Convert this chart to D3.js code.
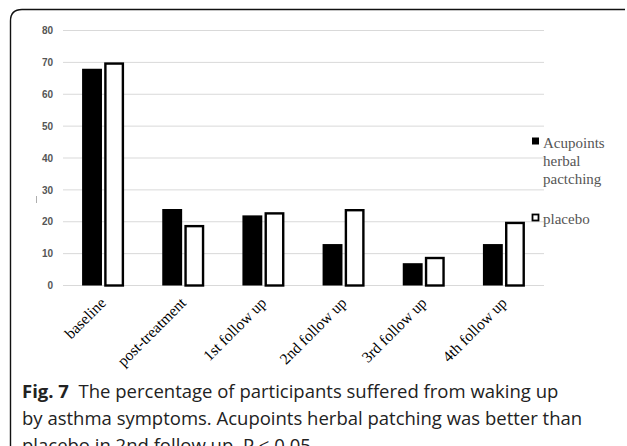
<!DOCTYPE html>
<html>
<head>
<meta charset="utf-8">
<script src="https://cdn.jsdelivr.net/npm/d3@7"></script>
<style>
  body { margin: 0; background: #fff; }
  svg { display: block; }
</style>
</head>
<body>
<script>
/* global d3 */
(function () {
  'use strict'

  // Data
  var categories = ['baseline', 'post-treatment', '1st follow up', '2nd follow up', '3rd follow up', '4th follow up']
  var seriesNames = ['Acupoints herbal pactching', 'placebo']
  var herbal = [68, 24, 22, 13, 7, 13]
  var placebo = [70, 19, 23, 24, 9, 20]
  var yTicks = [0, 10, 20, 30, 40, 50, 60, 70, 80]
  var captionLines = [
    ['Fig. 7', '  The percentage of participants suffered from waking up'],
    ['', 'by asthma symptoms. Acupoints herbal patching was better than'],
    ['', 'placebo in 2nd follow up. P < 0.05']
  ]

  // Dimensions
  var w = 627
  var h = 446
  var plotLeft = 63
  var plotRight = 544
  var plotTop = 30.5
  var plotBottom = 285.5

  var svg = d3.select('body').append('svg')
    .attr('width', w)
    .attr('height', h)

  // Panel border with rounded top-left corner
  svg.append('path')
    .attr('d', 'M10.5,' + (h + 5) + ' V21 Q10.5,9.5 22,9.5 H625')
    .attr('fill', 'none')
    .attr('stroke', '#111')
    .attr('stroke-width', 1.4)

  // Scales
  var x = d3.scaleBand()
    .domain(categories)
    .range([plotLeft, plotRight])
  var x1 = d3.scaleBand()
    .domain(seriesNames)
    .range([0, 42])
    .paddingInner(0.1)
  var y = d3.scaleLinear()
    .domain([0, 80])
    .range([plotBottom, plotTop])

  // Gridlines
  svg.append('g')
    .selectAll('line')
    .data(yTicks)
    .enter().append('line')
      .attr('x1', plotLeft)
      .attr('x2', plotRight)
      .attr('y1', function (d) { return y(d) })
      .attr('y2', function (d) { return y(d) })
      .attr('stroke', '#d9d9d9')
      .attr('stroke-width', 1)

  // Left axis (labels only)
  var leftAxis = d3.axisLeft(y)
    .tickValues(yTicks)
    .tickSize(0)
    .tickPadding(0)
  var gy = svg.append('g')
    .attr('transform', 'translate(53,0)')
    .call(leftAxis)
  gy.select('.domain').remove()
  gy.selectAll('text')
    .attr('font-family', 'Liberation Sans, Arial, sans-serif')
    .attr('font-weight', 'bold')
    .attr('font-size', 10)
    .attr('fill', '#555')

  // small stray mark left of the axis
  svg.append('line')
    .attr('x1', 36.5).attr('x2', 36.5)
    .attr('y1', 196).attr('y2', 203)
    .attr('stroke', '#999')
    .attr('stroke-width', 0.8)

  // Bars
  var groups = svg.append('g')
    .selectAll('g')
    .data(categories)
    .enter().append('g')
      .attr('transform', function (d) {
        return 'translate(' + (x(d) + x.bandwidth() / 2 - 21) + ',0)'
      })

  groups.append('rect')
    .attr('x', x1(seriesNames[0]))
    .attr('width', x1.bandwidth())
    .attr('y', function (d, i) { return y(herbal[i]) })
    .attr('height', function (d, i) { return plotBottom - y(herbal[i]) })
    .attr('fill', '#000')

  groups.append('rect')
    .attr('x', x1(seriesNames[1]) + 1.2)
    .attr('width', x1.bandwidth() - 2.4)
    .attr('y', function (d, i) { return y(placebo[i]) + 1.2 })
    .attr('height', function (d, i) { return plotBottom - y(placebo[i]) - 1.2 })
    .attr('fill', '#fff')
    .attr('stroke', '#000')
    .attr('stroke-width', 2.4)

  // Category labels, rotated
  svg.append('g')
    .selectAll('text')
    .data(categories)
    .enter().append('text')
      .attr('transform', function (d) {
        return 'translate(' + (x(d) + x.bandwidth() / 2 + 0) + ',300) rotate(-45)'
      })
      .attr('text-anchor', 'end')
      .attr('dy', '0.35em')
      .attr('font-family', 'Liberation Serif, Times New Roman, serif')
      .attr('font-size', 15.5)
      .attr('fill', '#000')
      .text(function (d) { return d })

  // Legend
  var legend = svg.append('g')
    .attr('font-family', 'Liberation Serif, Times New Roman, serif')
    .attr('font-size', 15)
    .attr('fill', '#555')

  legend.append('rect')
    .attr('x', 532).attr('y', 137.5)
    .attr('width', 7).attr('height', 7)
    .attr('fill', '#000')
  var lt = legend.append('text')
    .attr('x', 543)
    .attr('y', 147.5)
  ;['Acupoints', 'herbal', 'pactching'].forEach(function (s, i) {
    lt.append('tspan')
      .attr('x', 543)
      .attr('dy', i === 0 ? 0 : 18)
      .text(s)
  })

  legend.append('rect')
    .attr('x', 532.5).attr('y', 214.5)
    .attr('width', 6).attr('height', 6)
    .attr('fill', '#fff')
    .attr('stroke', '#000')
    .attr('stroke-width', 1.8)
  legend.append('text')
    .attr('x', 543)
    .attr('y', 223.5)
    .text(seriesNames[1])

  // Caption
  var cap = svg.append('g')
    .attr('font-family', 'Open Sans, Noto Sans, sans-serif')
    .attr('font-size', 18.5)
    .attr('fill', '#222')

  captionLines.forEach(function (line, i) {
    var t = cap.append('text')
      .attr('x', 22)
      .attr('y', 398 + i * 27)
      .attr('xml:space', 'preserve')
    if (line[0]) {
      t.append('tspan')
        .attr('font-weight', 'bold')
        .text(line[0])
    }
    t.append('tspan').text(line[1])
  })
}())
</script>
</body>
</html>
